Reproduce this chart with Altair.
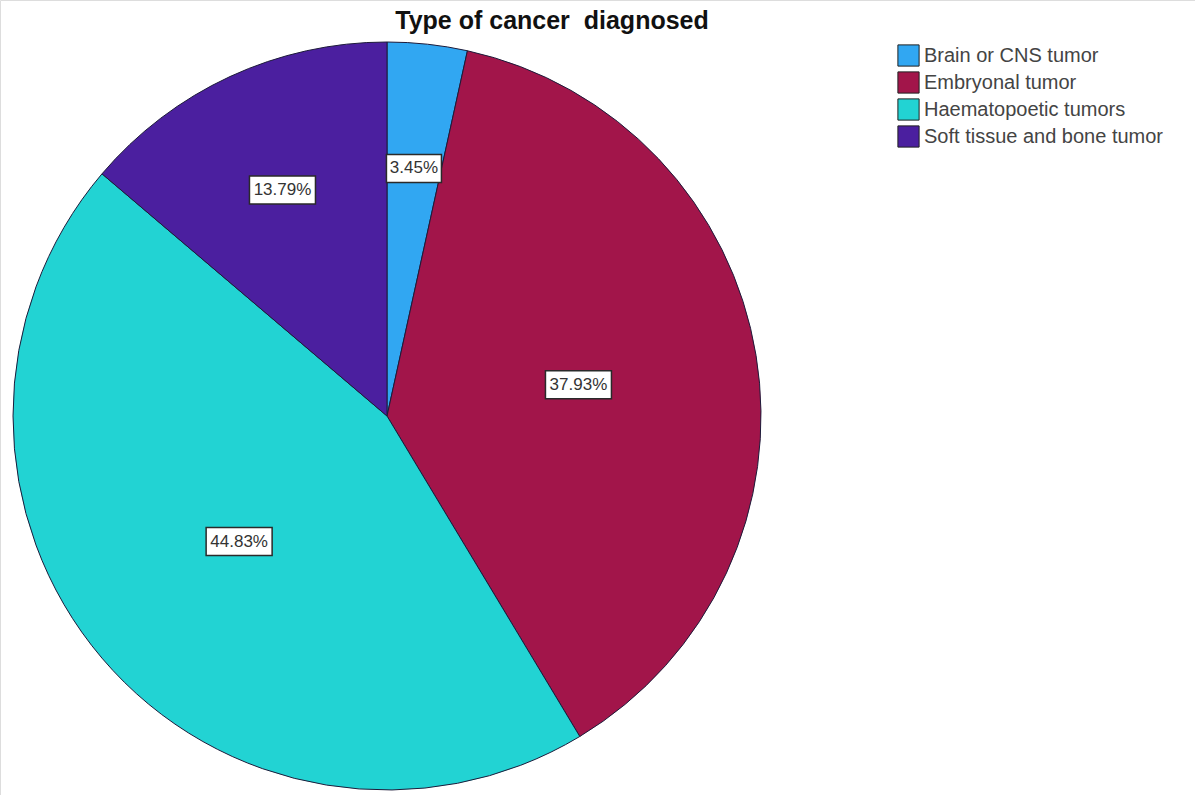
import altair as alt
import pandas as pd

# Share of diagnoses by cancer type (percent of patients)
categories = ["Brain or CNS tumor", "Embryonal tumor", "Haematopoetic tumors", "Soft tissue and bone tumor"]
percents = [3.45, 37.93, 44.83, 13.79]
colors = ["#31A7F2", "#A2154A", "#22D3D3", "#4B1F9F"]

df = pd.DataFrame({"category": categories, "pct": percents})
# non-breaking space keeps the double gap in the heading
title_df = pd.DataFrame({"t": ["Type of cancer\u00a0 diagnosed"]})

CX, CY, R = 387, 416, 374

base = alt.Chart(df)

pie = base.mark_arc(radius=R, stroke="#1d1b3a", strokeWidth=1).encode(
    theta=alt.Theta("pct:Q", stack=True),
    color=alt.Color(
        "category:N",
        scale=alt.Scale(domain=categories, range=colors),
        legend=alt.Legend(
            title=None,
            orient="none",
            legendX=897,
            legendY=44,
            symbolType="square",
            symbolSize=450,
            symbolStrokeColor="#222",
            symbolStrokeWidth=1,
            symbolOpacity=1,
            labelFont="Liberation Sans",
            labelFontSize=20,
            labelColor="#444",
            labelOffset=4,
            rowPadding=0,
            labelLimit=400,
        ),
    ),
    order=alt.Order("category:N"),
    x=alt.value(CX),
    y=alt.value(CY),
)

# Label anchor points placed along each slice's middle angle
labelled = base.transform_joinaggregate(
    total="sum(pct)"
).transform_window(
    cum="sum(pct)", sort=[alt.SortField("category")]
).transform_calculate(
    mid="(datum.cum - datum.pct / 2) / datum.total * 2 * PI",
    rl="datum.pct < 20 ? 249 : 194",
    lx=f"{CX} + datum.rl * sin(datum.mid)",
    ly=f"{CY} - datum.rl * cos(datum.mid)",
    label="format(datum.pct, '.2f') + '%'",
    bw="length(datum.label) * 11",
    x1="datum.lx - datum.bw / 2",
    x2="datum.lx + datum.bw / 2",
    y1="datum.ly - 14",
    y2="datum.ly + 14",
)

boxes = labelled.mark_rect(fill="white", stroke="#2a2a2a", strokeWidth=1.5).encode(
    x=alt.X("x1:Q", scale=None, axis=None),
    x2="x2:Q",
    y=alt.Y("y1:Q", scale=None, axis=None),
    y2="y2:Q",
)

texts = labelled.mark_text(
    font="Liberation Sans", fontSize=17, color="#333", align="center", baseline="middle"
).encode(
    x=alt.X("lx:Q", scale=None, axis=None),
    y=alt.Y("ly:Q", scale=None, axis=None),
    text="label:N",
)

title = alt.Chart(title_df).mark_text(
    font="Liberation Sans", fontSize=25, fontWeight="bold", color="#111", align="center", baseline="middle"
).encode(
    x=alt.value(552),
    y=alt.value(21),
    text="t:N",
)

chart = alt.layer(pie, boxes, texts, title).properties(
    width=1195,
    height=795,
    autosize=alt.AutoSizeParams(type="none"),
    padding=0,
).configure_view(stroke=None).configure(background="white")

chart.save("out.html", embed_options={"renderer": "svg", "actions": False})
